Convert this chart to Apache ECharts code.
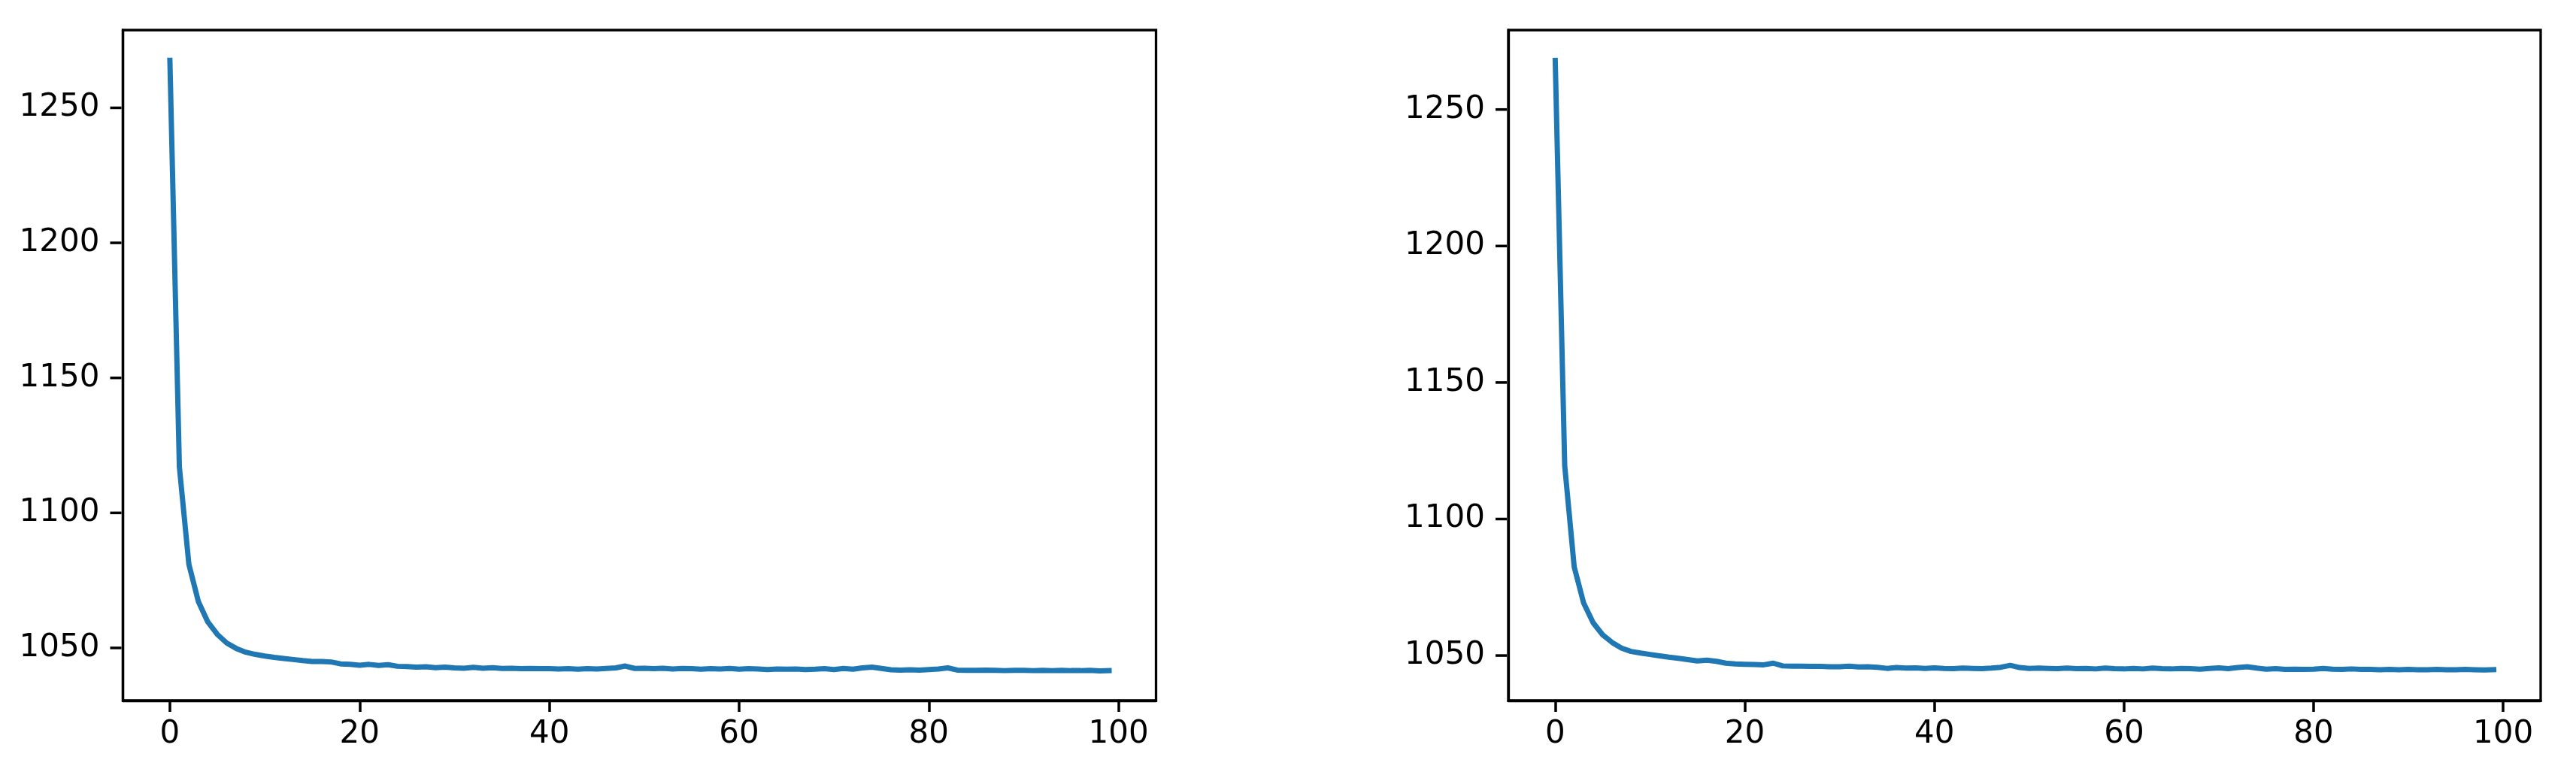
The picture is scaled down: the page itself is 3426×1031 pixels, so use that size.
<!DOCTYPE html>
<html>
<head>
<meta charset="utf-8">
<script src="https://cdn.jsdelivr.net/npm/echarts@6/dist/echarts.min.js"></script>
<style>
html,body{margin:0;padding:0;background:#fff;}
#chart{width:3426px;height:1031px;}
</style>
</head>
<body>
<div id="chart"></div>
<script>
// ---- data ----
const epochs = Array.from({length: 100}, (_, i) => i);

const lossLeft = [
  1267.6, 1117.0, 1081.0, 1067.2, 1059.6, 1055.0, 1051.8, 1049.8, 1048.4, 1047.6,
  1047.0, 1046.5, 1046.1, 1045.7, 1045.3, 1045.0, 1045.0, 1044.8, 1044.1, 1043.9,
  1043.6, 1043.9, 1043.5, 1043.8, 1043.2, 1043.1, 1042.9, 1043.0, 1042.7, 1042.9,
  1042.6, 1042.5, 1042.8, 1042.5, 1042.7, 1042.4, 1042.5, 1042.3, 1042.4, 1042.3,
  1042.3, 1042.2, 1042.3, 1042.1, 1042.3, 1042.2, 1042.4, 1042.6, 1043.3, 1042.4,
  1042.5, 1042.3, 1042.5, 1042.2, 1042.4, 1042.3, 1042.1, 1042.3, 1042.2, 1042.4,
  1042.1, 1042.3, 1042.2, 1042.0, 1042.2, 1042.1, 1042.2, 1042.0, 1042.1, 1042.3,
  1042.0, 1042.4, 1042.1, 1042.6, 1042.9, 1042.4, 1041.9, 1041.8, 1041.9, 1041.8,
  1042.0, 1042.2, 1042.6, 1041.8, 1041.7, 1041.7, 1041.8, 1041.7, 1041.6, 1041.7,
  1041.7, 1041.6, 1041.7, 1041.6, 1041.7, 1041.6, 1041.6, 1041.7, 1041.5, 1041.6
];

const lossRight = [
  1268.0, 1119.5, 1082.5, 1069.2, 1062.0, 1057.6, 1054.8, 1052.7, 1051.5, 1050.9,
  1050.4, 1049.9, 1049.4, 1049.0, 1048.5, 1048.0, 1048.3, 1047.9, 1047.2, 1046.9,
  1046.8, 1046.7, 1046.6, 1047.2, 1046.2, 1046.1, 1046.1, 1046.0, 1046.0, 1045.9,
  1045.9, 1046.1, 1045.8, 1045.9, 1045.7, 1045.3, 1045.6, 1045.4, 1045.5, 1045.3,
  1045.5, 1045.3, 1045.2, 1045.4, 1045.3, 1045.2, 1045.4, 1045.7, 1046.4, 1045.6,
  1045.3, 1045.4, 1045.3, 1045.2, 1045.4, 1045.2, 1045.3, 1045.1, 1045.4, 1045.2,
  1045.1, 1045.3, 1045.1, 1045.4, 1045.2, 1045.1, 1045.3, 1045.2, 1045.0, 1045.3,
  1045.5, 1045.2, 1045.6, 1045.9, 1045.4, 1045.0, 1045.2, 1044.9, 1045.0, 1044.9,
  1045.0, 1045.3, 1045.0, 1044.9, 1045.1, 1044.9, 1044.9, 1044.8, 1044.9, 1044.8,
  1044.9, 1044.8, 1044.8, 1044.9, 1044.8, 1044.8, 1044.9, 1044.8, 1044.7, 1044.8
];

const xTicks = [0, 20, 40, 60, 80, 100];
const yTicks = [1050, 1100, 1150, 1200, 1250];

// ---- chart ----
const FONT = 'DejaVu Sans';
const LINE_COLOR = '#1f77b4';
const plain = v => String(v);

function xAxisCfg(idx) {
  return {
    type: 'value', gridIndex: idx, position: 'bottom', min: -4.95, max: 103.95,
    splitLine: {show: false},
    axisLine: {show: true, onZero: false, lineStyle: {color: '#000', width: 3.3}},
    axisTick: {show: true, inside: false, length: 15, customValues: xTicks,
      lineStyle: {color: '#000', width: 3.5}},
    axisLabel: {show: true, customValues: xTicks, margin: 24, formatter: plain,
      color: '#000', fontSize: 42, fontFamily: FONT}
  };
}
function yAxisCfg(idx, mn, mx) {
  return {
    type: 'value', gridIndex: idx, position: 'left', min: mn, max: mx,
    splitLine: {show: false},
    axisLine: {show: true, onZero: false, lineStyle: {color: '#000', width: 3.3}},
    axisTick: {show: false},
    axisLabel: {
      show: true, customValues: yTicks, margin: 2,
      formatter: v => '{v|' + v + '}{g|}{t|}',
      rich: {
        v: {color: '#000', fontSize: 42, fontFamily: FONT, verticalAlign: 'middle'},
        g: {width: 14, height: 4, verticalAlign: 'middle'},
        t: {width: 15, height: 3.5, backgroundColor: '#000', verticalAlign: 'middle'}
      }
    }
  };
}

const chart = echarts.init(document.getElementById('chart'), null, {renderer: 'canvas'});
chart.setOption({
  animation: false,
  backgroundColor: '#fff',
  grid: [
    {left: 163.5, top: 40, width: 1374, height: 892, show: true,
     borderColor: '#000', borderWidth: 3.3, backgroundColor: 'transparent'},
    {left: 2006, top: 40, width: 1373, height: 892, show: true,
     borderColor: '#000', borderWidth: 3.3, backgroundColor: 'transparent'}
  ],
  xAxis: [xAxisCfg(0), xAxisCfg(1)],
  yAxis: [yAxisCfg(0, 1030.5, 1278.8), yAxisCfg(1, 1033.5, 1279.1)],
  series: [
    {type: 'line', xAxisIndex: 0, yAxisIndex: 0, showSymbol: false,
     data: epochs.map((e, i) => [e, lossLeft[i]]),
     lineStyle: {color: LINE_COLOR, width: 7, cap: 'square', join: 'round'}},
    {type: 'line', xAxisIndex: 1, yAxisIndex: 1, showSymbol: false,
     data: epochs.map((e, i) => [e, lossRight[i]]),
     lineStyle: {color: LINE_COLOR, width: 7, cap: 'square', join: 'round'}}
  ]
});
</script>
</body>
</html>
